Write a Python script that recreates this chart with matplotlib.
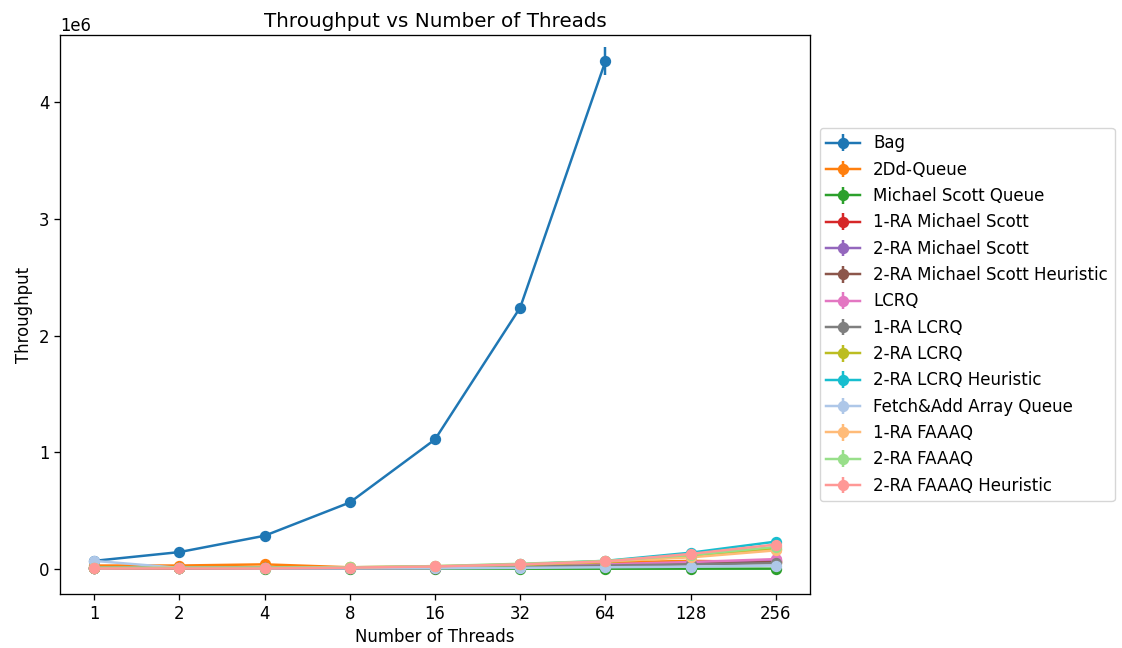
import matplotlib
matplotlib.use("Agg")
import matplotlib.pyplot as plt
import numpy as np

threads = [1, 2, 4, 8, 16, 32, 64, 128, 256]

names = ["Bag", "2Dd-Queue", "Michael Scott Queue", "1-RA Michael Scott",
         "2-RA Michael Scott", "2-RA Michael Scott Heuristic", "LCRQ", "1-RA LCRQ",
         "2-RA LCRQ", "2-RA LCRQ Heuristic", "Fetch&Add Array Queue", "1-RA FAAAQ",
         "2-RA FAAAQ", "2-RA FAAAQ Heuristic"]

bag = [0.07e6, 0.145e6, 0.285e6, 0.57e6, 1.11e6, 2.24e6, 4.35e6, np.nan, np.nan]
bag_err = [0.005e6, 0.005e6, 0.008e6, 0.01e6, 0.02e6, 0.03e6, 0.12e6, np.nan, np.nan]
dd_queue = [0.03e6, 0.03e6, 0.04e6, 0.015e6, 0.02e6, 0.035e6, 0.055e6, 0.07e6, 0.06e6]
msq = [0.01e6, 0.005e6, 0.004e6, 0.003e6, 0.003e6, 0.003e6, 0.003e6, 0.003e6, 0.003e6]
ra1_ms = [0.01e6, 0.008e6, 0.008e6, 0.008e6, 0.01e6, 0.02e6, 0.035e6, 0.05e6, 0.07e6]
ra2_ms = [0.01e6, 0.008e6, 0.008e6, 0.008e6, 0.01e6, 0.02e6, 0.035e6, 0.055e6, 0.075e6]
ra2_ms_h = [0.01e6, 0.008e6, 0.008e6, 0.008e6, 0.01e6, 0.02e6, 0.03e6, 0.045e6, 0.06e6]
lcrq = [0.01e6, 0.01e6, 0.01e6, 0.01e6, 0.015e6, 0.025e6, 0.04e6, 0.06e6, 0.085e6]
ra1_lcrq = [0.01e6, 0.008e6, 0.008e6, 0.008e6, 0.012e6, 0.02e6, 0.03e6, 0.04e6, 0.05e6]
ra2_lcrq = [0.01e6, 0.01e6, 0.01e6, 0.012e6, 0.02e6, 0.035e6, 0.06e6, 0.11e6, 0.175e6]
ra2_lcrq_h = [0.01e6, 0.01e6, 0.01e6, 0.012e6, 0.02e6, 0.04e6, 0.07e6, 0.14e6, 0.235e6]
faaaq = [0.07e6, 0.01e6, 0.005e6, 0.005e6, 0.006e6, 0.01e6, 0.015e6, 0.02e6, 0.03e6]
ra1_faaaq = [0.01e6, 0.01e6, 0.01e6, 0.015e6, 0.025e6, 0.04e6, 0.065e6, 0.1e6, 0.16e6]
ra2_faaaq = [0.01e6, 0.01e6, 0.01e6, 0.015e6, 0.025e6, 0.045e6, 0.07e6, 0.12e6, 0.19e6]
ra2_faaaq_h = [0.005e6, 0.005e6, 0.005e6, 0.012e6, 0.022e6, 0.04e6, 0.065e6, 0.13e6, 0.21e6]

series = [bag, dd_queue, msq, ra1_ms, ra2_ms, ra2_ms_h, lcrq, ra1_lcrq,
          ra2_lcrq, ra2_lcrq_h, faaaq, ra1_faaaq, ra2_faaaq, ra2_faaaq_h]

S = 1.19
plt.rcParams['font.size'] = 10 * S
plt.rcParams['axes.linewidth'] = 0.8 * S
plt.rcParams['xtick.major.size'] = 3.5 * S
plt.rcParams['ytick.major.size'] = 3.5 * S
plt.rcParams['xtick.major.width'] = 0.8 * S
plt.rcParams['ytick.major.width'] = 0.8 * S

colors = list(plt.cm.tab20.colors)
palette = list(plt.cm.tab10.colors) + [colors[1], colors[3], colors[5], colors[7]]

fig = plt.figure(figsize=(11.22, 6.48), dpi=100)
ax = fig.add_axes([0.0535, 0.0833, 0.6684, 0.8627])
x = np.arange(len(threads))
for i, (name, vals) in enumerate(zip(names, series)):
    vals = np.array(vals, dtype=float)
    err = np.array(bag_err) if i == 0 else vals * 0.05
    ax.errorbar(x, vals, yerr=err, marker='o', markersize=6 * S, label=name,
                color=palette[i], linewidth=1.5 * S, elinewidth=1.5 * S)

ax.set_xticks(x)
ax.set_xticklabels([str(t) for t in threads])
ax.set_ylim(-0.214e6, 4.574e6)
ax.set_xlabel("Number of Threads")
ax.set_ylabel("Throughput")
ax.set_title("Throughput vs Number of Threads")
ax.legend(loc='center left', bbox_to_anchor=(1.002, 0.5), fontsize=12.0)
fig.savefig("out.png", dpi=100)
